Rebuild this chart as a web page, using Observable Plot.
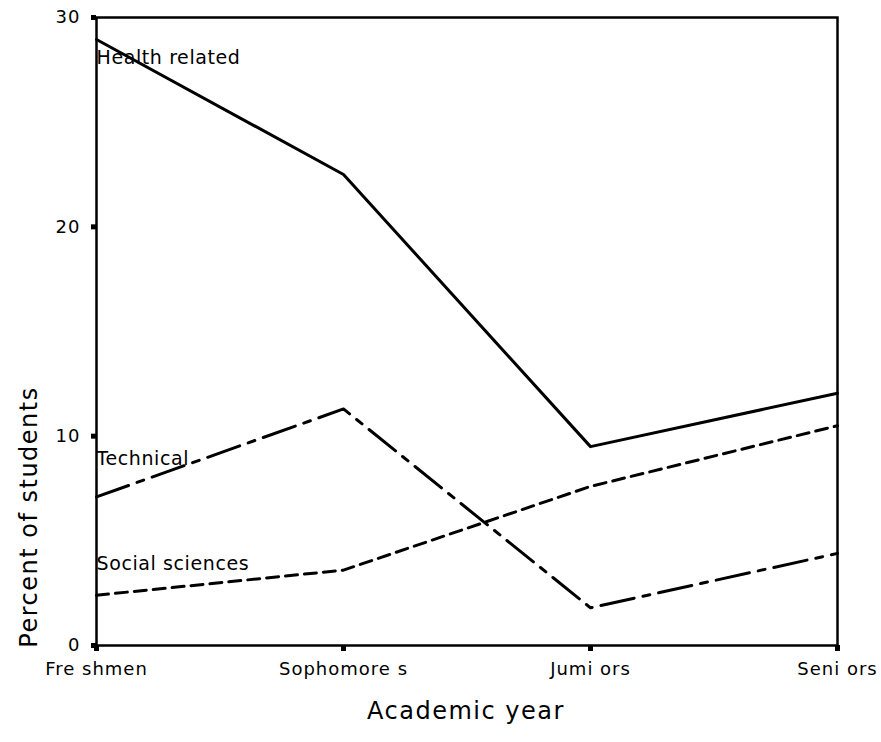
<!DOCTYPE html>
<html>
<head>
<meta charset="utf-8">
<script src="https://cdn.jsdelivr.net/npm/d3@7"></script>
<script src="https://cdn.jsdelivr.net/npm/@observablehq/plot@0.6"></script>
<style>
  body { margin: 0; background: #fff; }
  svg { font-family: "DejaVu Sans", sans-serif; }
</style>
</head>
<body>
<div id="chart"></div>
<script>
const years = ["Freshmen", "Sophomores", "Jumiors", "Seniors"];
const yearTickLabels = ["Fre shmen", "Sophomore s", "Jumi ors", "Seni ors"];
const healthRelated = [28.95, 22.5, 9.5, 12.05];
const technical = [7.1, 11.3, 1.8, 4.4];
const socialSciences = [2.4, 3.6, 7.6, 10.5];
const seriesNames = ["Health related", "Technical", "Social sciences"];
const seriesLabelY = [28.05, 8.93, 3.92];
const yTicks = [0, 10, 20, 30];
const yTickLabels = ["0", "10", "20", "30"];

const seriesValues = [healthRelated, technical, socialSciences];
const dashes = [null, "34,9,7,9", "12,7"];

const rows = [];
seriesNames.forEach((s, i) => years.forEach((y, j) => rows.push({series: s, year: y, value: seriesValues[i][j]})));
const labelRows = seriesNames.map((s, i) => ({series: s, year: years[0], value: seriesLabelY[i]}));

const marks = [
  Plot.frame({stroke: "#000", strokeWidth: 2.5}),
  Plot.axisY({ticks: yTicks, tickFormat: (d) => yTickLabels[yTicks.indexOf(d)], tickSize: 5, strokeWidth: 5, tickPadding: 11, label: null, stroke: "#000"}),
  Plot.axisX({tickFormat: (d) => yearTickLabels[years.indexOf(d)], tickSize: 6, strokeWidth: 5, tickPadding: 11, label: null})
];
seriesNames.forEach((s, i) => {
  marks.push(Plot.line(rows.filter(r => r.series === s), {x: "year", y: "value", stroke: "#000", strokeWidth: 3, strokeDasharray: dashes[i]}));
});
marks.push(Plot.text(labelRows, {x: "year", y: "value", text: "series", textAnchor: "start", fill: "#000", className: "serieslabel"}));

const chart = Plot.plot({
  width: 881,
  height: 742,
  marginLeft: 96,
  marginRight: 44,
  marginTop: 17,
  marginBottom: 97,
  x: {type: "point", domain: years, padding: 0},
  y: {domain: [0, 30]},
  style: {fontFamily: "DejaVu Sans, sans-serif", color: "#000", background: "#fff", fontSize: "18px"},
  marks
});

const svg = d3.select(chart);
svg.selectAll('g[aria-label="x-axis tick label"] text, g[aria-label="y-axis tick label"] text')
  .attr("font-size", 18).style("letter-spacing", "1px");
svg.selectAll('g[aria-label="text"] text')
  .attr("font-size", 19).style("letter-spacing", "0.6px");
svg.append("text")
  .attr("transform", "translate(30,517) rotate(-90)")
  .attr("text-anchor", "middle")
  .attr("dominant-baseline", "middle")
  .attr("font-size", 24)
  .style("letter-spacing", "1.5px")
  .attr("fill", "#000")
  .text("Percent of students");
svg.append("text")
  .attr("x", 466)
  .attr("y", 712)
  .attr("text-anchor", "middle")
  .attr("dominant-baseline", "middle")
  .attr("font-size", 24)
  .style("letter-spacing", "1.5px")
  .attr("fill", "#000")
  .text("Academic year");
document.getElementById("chart").appendChild(chart);
</script>
</body>
</html>
